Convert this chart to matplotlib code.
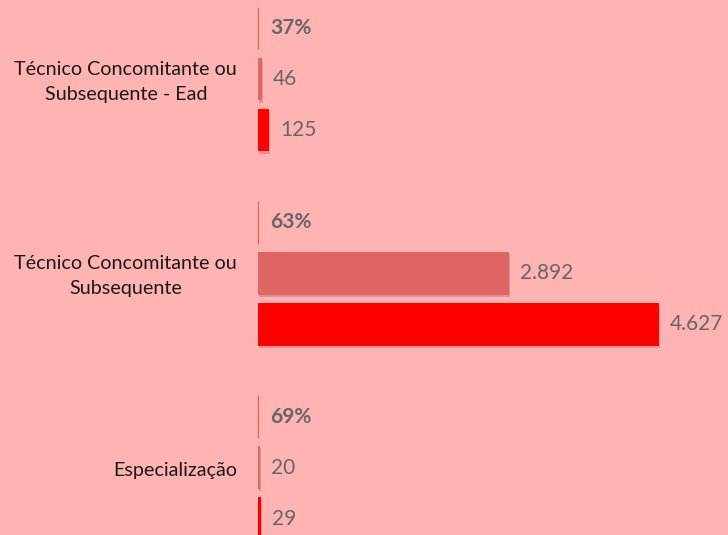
import numpy as np
import matplotlib.pyplot as plt
import matplotlib.patheffects as pe

# data
categories = ['Técnico Concomitante ou\nSubsequente - Ead',
              'Técnico Concomitante ou\nSubsequente',
              'Especialização']
pct = [0.37, 0.63, 0.69]
pct_labels = ['37%', '63%', '69%']
serie_a = [46, 2892, 20]
serie_b = [125, 4627, 29]

bg = '#FFB3B3'
plt.rcParams['font.family'] = ['Lato', 'DejaVu Sans']

fig = plt.figure(figsize=(7.28, 5.35), dpi=100, facecolor=bg)
ax = fig.add_axes([0, 0, 1, 1])
ax.set_facecolor(bg)

centers = np.arange(len(categories)) * 3.81
h = 0.84
shadow = [pe.SimplePatchShadow(offset=(1, -1.5), shadow_rgbFace='#8a5050', alpha=0.3), pe.Normal()]

ax.barh(centers - 1, pct, height=h, color='#D96060', edgecolor='#D96060', linewidth=0.9)
ax.barh(centers, serie_a, height=h, color='#DE6666', path_effects=shadow)
ax.barh(centers + 1, serie_b, height=h, color='#FF0000', path_effects=shadow)

def fmt(v):
    return f'{v:,}'.replace(',', '.')

for i, c in enumerate(centers):
    ax.annotate(pct_labels[i], (pct[i], c - 1), xytext=(8.5, 0), textcoords='offset points',
                va='center', ha='left', fontsize=15, fontweight='bold', color='#666666')
    ax.annotate(fmt(serie_a[i]), (serie_a[i], c), xytext=(8, 0), textcoords='offset points',
                va='center', ha='left', fontsize=15, color='#666666')
    ax.annotate(fmt(serie_b[i]), (serie_b[i], c + 1), xytext=(8, 0), textcoords='offset points',
                va='center', ha='left', fontsize=15, color='#666666')
    ax.annotate(categories[i], (0, c), xytext=(-15, -2), textcoords='offset points',
                va='center', ha='right', multialignment='center', fontsize=14.2,
                color='#1a1a1a', linespacing=1.6)

ax.set_xlim(-2977, 5423)
ax.set_ylim(-1.549 + 535 / 51, -1.549)
ax.axis('off')

fig.savefig('out.png', dpi=100, facecolor=bg)
